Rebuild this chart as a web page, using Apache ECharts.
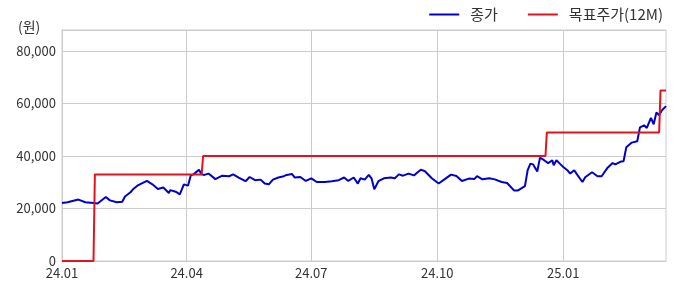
<!DOCTYPE html>
<html><head><meta charset="utf-8">
<script src="https://cdn.jsdelivr.net/npm/echarts@6/dist/echarts.min.js"></script>
<style>html,body{margin:0;padding:0;background:#fff}#c{width:680px;height:303px}</style>
</head><body><div id="c"></div>
<script>
const xStart = '2024-01-01';
const xEnd = '2025-03-17';
const xTickDates = ['2024-01-01','2024-04-01','2024-07-01','2024-10-01','2025-01-01'];
const xTickLabels = ['24.01','24.04','24.07','24.10','25.01'];
const yTicks = [0, 20000, 40000, 60000, 80000];
const seriesNames = ['종가', '목표주가(12M)'];

const closeDates = ['2024-01-01','2024-01-05','2024-01-13','2024-01-18','2024-01-24','2024-01-27','2024-02-02','2024-02-05','2024-02-10','2024-02-14','2024-02-16','2024-02-20','2024-02-22','2024-02-25','2024-03-03','2024-03-07','2024-03-11','2024-03-15','2024-03-19','2024-03-20','2024-03-24','2024-03-27','2024-03-30','2024-04-02','2024-04-04','2024-04-06','2024-04-10','2024-04-12','2024-04-14','2024-04-17','2024-04-22','2024-04-27','2024-05-02','2024-05-05','2024-05-09','2024-05-14','2024-05-17','2024-05-21','2024-05-25','2024-05-28','2024-05-31','2024-06-03','2024-06-07','2024-06-11','2024-06-13','2024-06-17','2024-06-19','2024-06-23','2024-06-27','2024-07-01','2024-07-05','2024-07-11','2024-07-16','2024-07-21','2024-07-25','2024-07-28','2024-08-01','2024-08-04','2024-08-06','2024-08-09','2024-08-12','2024-08-14','2024-08-16','2024-08-19','2024-08-23','2024-08-28','2024-08-31','2024-09-03','2024-09-06','2024-09-10','2024-09-14','2024-09-16','2024-09-19','2024-09-22','2024-09-27','2024-10-02','2024-10-07','2024-10-11','2024-10-15','2024-10-19','2024-10-24','2024-10-28','2024-10-30','2024-11-03','2024-11-08','2024-11-12','2024-11-17','2024-11-21','2024-11-26','2024-11-29','2024-12-04','2024-12-06','2024-12-08','2024-12-10','2024-12-13','2024-12-15','2024-12-18','2024-12-21','2024-12-24','2024-12-25','2024-12-27','2024-12-30','2025-01-01','2025-01-04','2025-01-06','2025-01-09','2025-01-11','2025-01-15','2025-01-17','2025-01-22','2025-01-26','2025-01-29','2025-02-02','2025-02-06','2025-02-08','2025-02-12','2025-02-14','2025-02-16','2025-02-20','2025-02-24','2025-02-26','2025-03-01','2025-03-03','2025-03-06','2025-03-08','2025-03-10','2025-03-12','2025-03-14','2025-03-17'];
const closeValues = [22100,22400,23400,22400,22100,21900,24400,23100,22400,22600,24600,26200,27400,28700,30500,29200,27400,28000,25900,27000,26400,25400,29200,28700,32600,33000,34800,33000,32800,33300,31200,32500,32300,33000,31800,30400,32000,30800,31000,29500,29200,31000,31800,32300,32800,33100,31800,32000,30500,31500,30100,30100,30400,30800,31800,30500,31800,29500,31500,31000,32800,31500,27300,30400,31500,31800,31500,33000,32500,33300,32600,33500,34800,34200,31500,29500,31400,32900,32400,30500,31400,31200,32300,31100,31500,31100,30100,29700,26900,26900,28500,34600,37100,36800,34100,39400,38400,37300,38400,36500,38400,36800,35800,34600,33300,34600,33000,30100,31900,33800,32300,32300,35300,37300,36800,37900,38000,43300,45100,45600,50900,51700,50700,54500,52100,56600,55500,57400,59000];

const targetDates = ['2024-01-01','2024-01-24','2024-01-25','2024-04-12','2024-04-13','2024-12-19','2024-12-20','2025-03-12','2025-03-13','2025-03-17'];
const targetValues = [0,0,33000,33000,40000,40000,49000,49000,65000,65000];

function fmt(d){const y=d.getUTCFullYear(),m=String(d.getUTCMonth()+1).padStart(2,'0'),dd=String(d.getUTCDate()).padStart(2,'0');return y+'-'+m+'-'+dd;}
const axisDays = [];
for (let t = Date.parse(xStart+'T00:00:00Z'); t <= Date.parse(xEnd+'T00:00:00Z'); t += 86400000) axisDays.push(fmt(new Date(t)));

const isTick = (i, v) => xTickDates.indexOf(v) >= 0;
const FONT = '"Noto Sans CJK KR", "Noto Sans", sans-serif';

const chart = echarts.init(document.getElementById('c'), null, {renderer:'canvas'});
chart.setOption({
  animation: false,
  textStyle: {fontFamily: FONT},
  title: {text: '(원)', left: 18, top: 20, padding: 0, textStyle: {fontSize: 14, fontWeight: 'normal', color: '#333', fontFamily: FONT}},
  legend: {
    right: 17, top: 7, padding: 0, itemWidth: 30, itemHeight: 2, itemGap: 30, icon: 'rect',
    data: seriesNames,
    textStyle: {fontSize: 15, color: '#333', fontFamily: FONT, padding: [3,0,0,6]}
  },
  grid: {left: 62, right: 14, top: 30, bottom: 42, show: true, borderColor: '#cccccc', borderWidth: 1, backgroundColor: 'transparent'},
  xAxis: {
    type: 'category', data: axisDays, boundaryGap: false,
    axisLine: {show: true, lineStyle: {color: '#cccccc', width: 1}},
    axisTick: {show: false, interval: isTick},
    axisLabel: {interval: isTick, margin: 6, fontSize: 13, color: '#333', fontFamily: FONT,
      formatter: v => { const k = xTickDates.indexOf(v); return k >= 0 ? xTickLabels[k] : ''; }},
    splitLine: {show: true, interval: isTick, lineStyle: {color: '#cccccc', width: 1}}
  },
  yAxis: {
    type: 'value', min: yTicks[0], max: 88000, interval: yTicks[1]-yTicks[0],
    axisLine: {show: true, lineStyle: {color: '#cccccc'}},
    axisTick: {show: false},
    axisLabel: {margin: 6, fontSize: 13, color: '#333', fontFamily: FONT, showMaxLabel: false,
      formatter: v => yTicks.indexOf(v) >= 0 ? v.toLocaleString('en-US') : ''},
    splitLine: {show: true, lineStyle: {color: '#cccccc', width: 1}}
  },
  series: [
    {name: seriesNames[0], type: 'line', symbol: 'none', showSymbol: false,
     data: closeDates.map((d, i) => [d, closeValues[i]]),
     lineStyle: {color: '#0000cc', width: 2}, itemStyle: {color: '#0000cc'}},
    {name: seriesNames[1], type: 'line', symbol: 'none', showSymbol: false,
     data: targetDates.map((d, i) => [d, targetValues[i]]),
     lineStyle: {color: '#e0141c', width: 2}, itemStyle: {color: '#e0141c'}}
  ]
});
</script></body></html>
